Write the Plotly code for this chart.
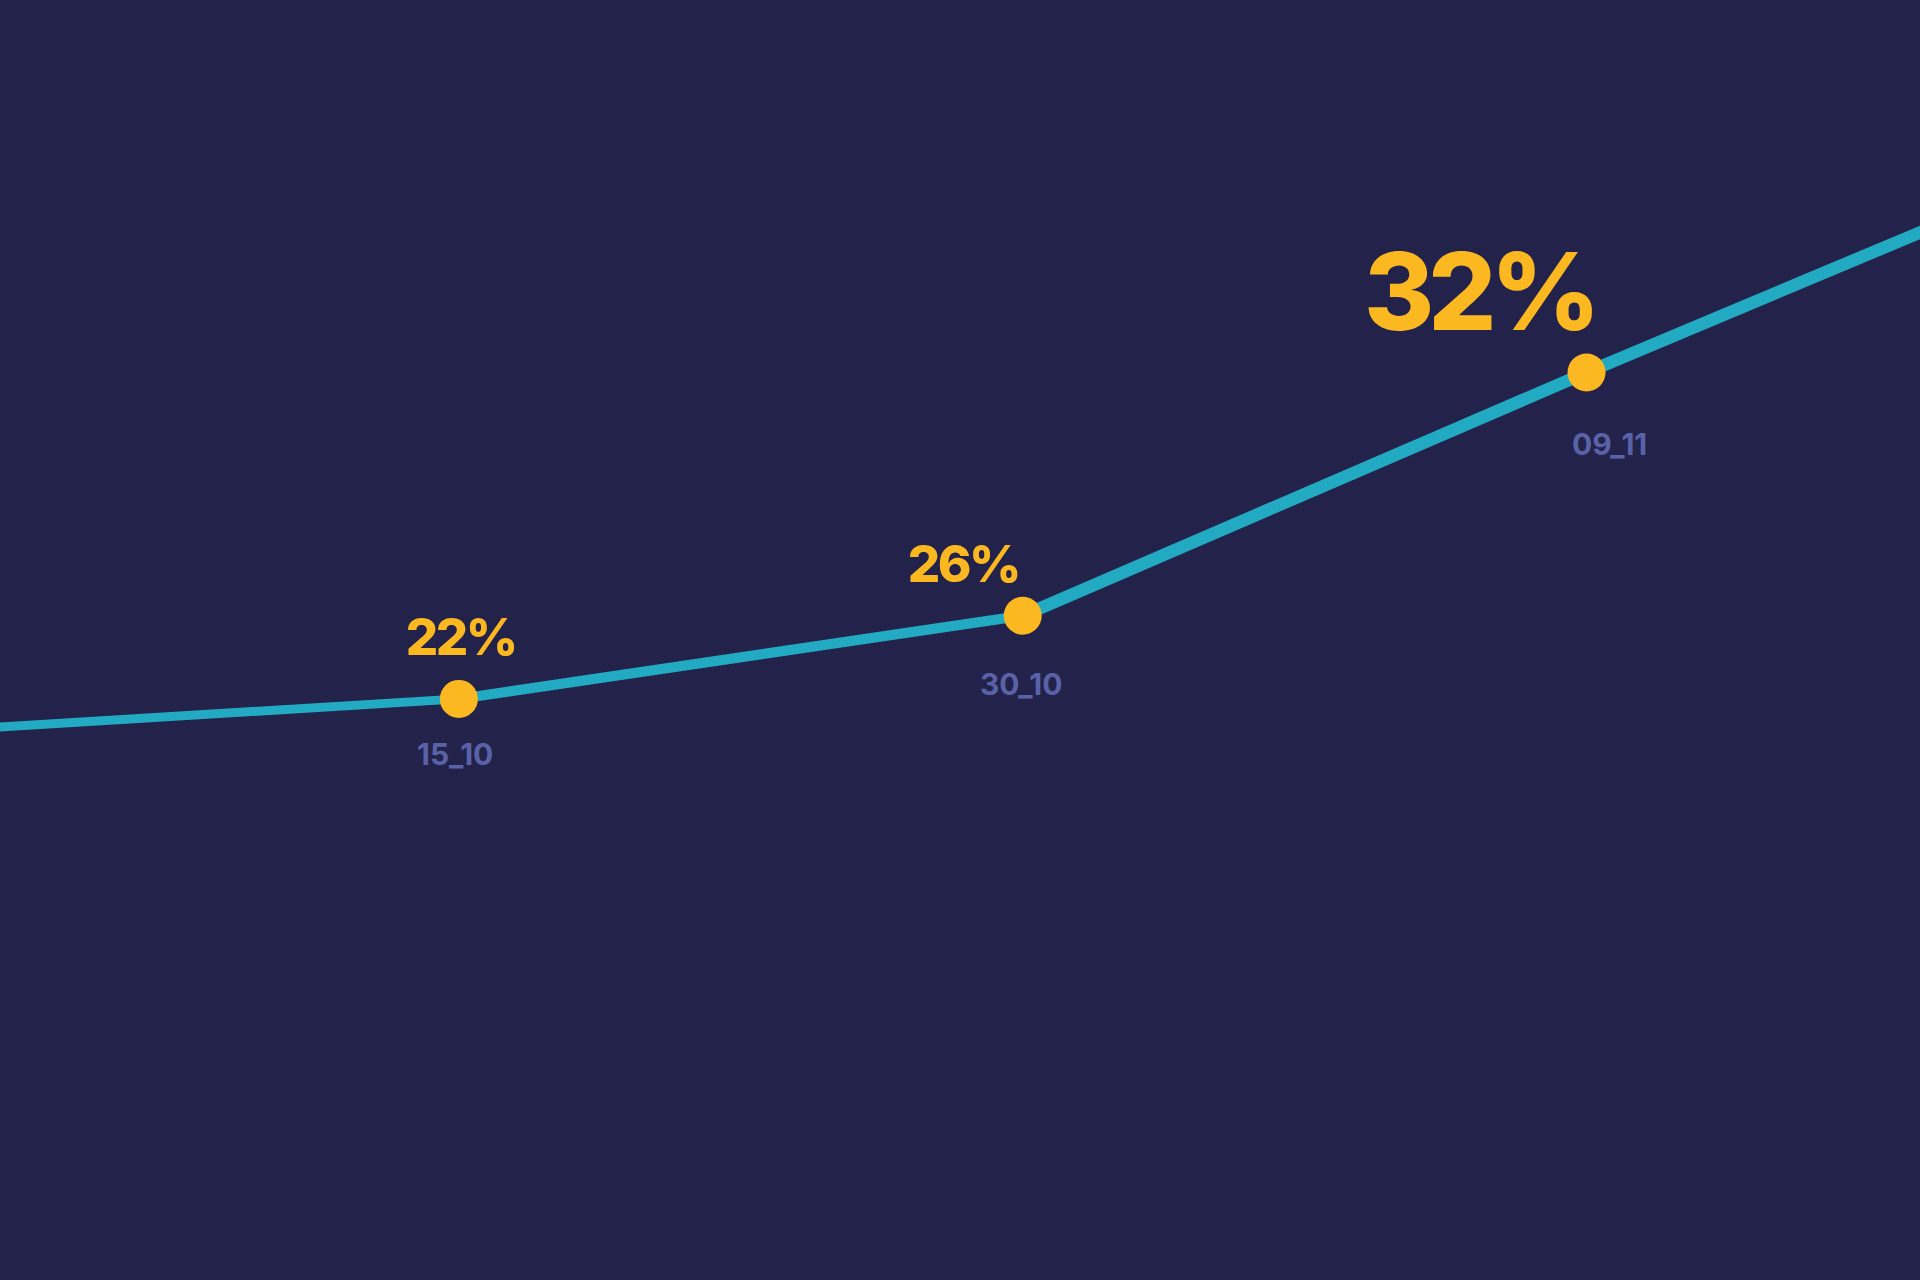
import json
import plotly.graph_objects as go

# ---- data ----
line_x = [0, 1, 2, 3, 4]                      # category index (0 and 4 lie beyond the visible area)
line_level = [42.7, 45.4, 51.9, 70.9, 89.4]   # line height (chart units)
point_idx = [1, 2, 3]
point_dates = ["15_10", "30_10", "09_11"]
point_pct = [22, 26, 32]

# ---- styles ----
BG = "#23224B"
LINE = "#22AAC3"
YEL = "#FBB820"
DATE_C = "#5A62A7"
seg_widths = [9, 10, 12.5, 12.5]
pct_sizes = [51, 51, 107]
pct_spacing = [-2.5, -2.5, -6]   # px letter spacing (tight display tracking)
pct_anchor = ["center", "right", "right"]
pct_xshift = [2, 2, 19]
pct_yshift = [62, 52, 81]
date_xshift = [-4, -2, 23]
date_yshift = [-55, -68, -72]
date_spacing = [0, 0, 0]

fig = go.Figure()
for i in range(len(line_x) - 1):
    fig.add_trace(go.Scatter(
        x=line_x[i:i + 2], y=line_level[i:i + 2], mode="lines",
        line=dict(color=LINE, width=seg_widths[i]), hoverinfo="skip"))

pt_y = [line_level[line_x.index(i)] for i in point_idx]
fig.add_trace(go.Scatter(
    x=point_idx, y=pt_y, mode="markers",
    marker=dict(color=YEL, size=38, line=dict(width=0)), hoverinfo="skip"))

spacing = []
for k, (xi, yi) in enumerate(zip(point_idx, pt_y)):
    fig.add_annotation(
        x=xi, y=yi, xref="x", yref="y", text=f"{point_pct[k]}%", showarrow=False,
        xanchor=pct_anchor[k], yanchor="middle", xshift=pct_xshift[k], yshift=pct_yshift[k],
        font=dict(family="Inter", size=pct_sizes[k], color=YEL, weight=800))
    spacing.append(pct_spacing[k])
    fig.add_annotation(
        x=xi, y=yi, xref="x", yref="y", text=point_dates[k], showarrow=False,
        xanchor="center", yanchor="middle", xshift=date_xshift[k], yshift=date_yshift[k],
        font=dict(family="Inter", size=30, color=DATE_C, weight=700))
    spacing.append(date_spacing[k])

fig.update_layout(
    width=1920, height=1280, margin=dict(l=0, r=0, t=0, b=0, pad=0),
    paper_bgcolor=BG, plot_bgcolor=BG, showlegend=False,
    xaxis=dict(visible=False, range=[0.1862, 3.5914], fixedrange=True),
    yaxis=dict(visible=False, range=[0, 100], fixedrange=True),
)

post = """
document.body.style.margin='0';document.body.style.background='%s';
var LS = %s;
function applyLS(){
  document.querySelectorAll('g.annotation text.annotation-text').forEach(function(t,i){
    if (LS[i]) { t.style.letterSpacing = LS[i] + 'px'; }
  });
}
applyLS(); setTimeout(applyLS, 30); setTimeout(applyLS, 300);
""" % (BG, json.dumps(spacing))

fig.write_html("out.html", config={"displayModeBar": False}, post_script=post)
